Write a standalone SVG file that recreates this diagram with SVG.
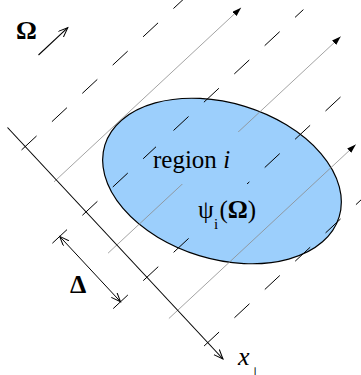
<svg xmlns="http://www.w3.org/2000/svg" width="361" height="375" viewBox="0 0 361 375">
<style>
.t{font-family:"Liberation Serif","Times New Roman",serif;fill:#000}
.b{font-weight:bold}
.dash{stroke:#000;stroke-width:1;fill:none;stroke-dasharray:20.5 21}
.ray{stroke:#8c8c8c;stroke-width:0.8;fill:none;marker-end:url(#fa)}
.ax{stroke:#000;stroke-width:1.1;fill:none}
.tk{stroke:#000;stroke-width:1;fill:none}
.bg{fill:#9ccffc;stroke:none}
</style>
<defs>
<marker id="fa" markerUnits="userSpaceOnUse" markerWidth="10" markerHeight="7" refX="9" refY="3" orient="auto"><path d="M0,0 L9,3 L0,6 Z" fill="#000"/></marker>
<marker id="oa" markerUnits="userSpaceOnUse" markerWidth="11" markerHeight="9" refX="9.5" refY="4" orient="auto-start-reverse"><path d="M0,0.2 L9.5,4 L0,7.8" fill="none" stroke="#000" stroke-width="1"/></marker>
</defs>
<rect width="361" height="375" fill="#fff"/>
<g id="region">
<ellipse cx="222" cy="181" rx="122.5" ry="78" transform="rotate(17 222 181)" fill="#9ccffc" stroke="#000" stroke-width="1.2"/>
</g>
<g id="connectors">
<line class="dash" x1="21.55" y1="149.94" x2="183.7" y2="-1"/>
<line class="dash" x1="82.39" y1="215.3" x2="303.4" y2="9.6"/>
<line class="dash" x1="143.23" y1="280.66" x2="341.6" y2="96"/>
<line class="dash" x1="204.07" y1="346.02" x2="372.4" y2="189.3"/>
<line class="ray" x1="54.01" y1="181.87" x2="241.1" y2="7.7"/>
<line class="ray" x1="108.07" y1="253.15" x2="340.7" y2="36.6"/>
<line class="ray" x1="168.9" y1="318.5" x2="355.8" y2="144.5"/>
<line class="ax" x1="7.5" y1="127.5" x2="223" y2="359" marker-end="url(#oa)"/>
<line class="ax" x1="38.5" y1="55" x2="67.8" y2="27.7" marker-end="url(#oa)"/>
<line class="tk" x1="59.7" y1="236.42" x2="120.54" y2="301.78" marker-start="url(#oa)" marker-end="url(#oa)"/>
<line class="tk" x1="52.38" y1="243.23" x2="67.02" y2="229.6"/>
<line class="tk" x1="113.22" y1="308.59" x2="127.86" y2="294.96"/>
</g>
<g id="region-labels">
<rect class="bg" x="156" y="132" width="84" height="52"/>
<rect class="bg" x="195" y="184" width="65" height="46"/>
<text class="t" x="153" y="168" font-size="25">region <tspan font-style="italic">i</tspan></text>
<text class="t" x="198" y="218" font-size="25">ψ<tspan x="214" y="229" font-size="15">i</tspan><tspan x="219.5" y="218">(</tspan><tspan class="b">Ω</tspan>)</text>
</g>
<g id="omega-label"><text class="t b" x="16" y="39.3" font-size="26">Ω</text></g>
<g id="delta-label"><text class="t b" x="70" y="293.3" font-size="26">Δ</text></g>
<g id="axis-label"><text class="t" x="238" y="365" font-size="26" font-style="italic">x</text><text class="t" x="249" y="377" font-size="14">⊥</text></g>
</svg>
